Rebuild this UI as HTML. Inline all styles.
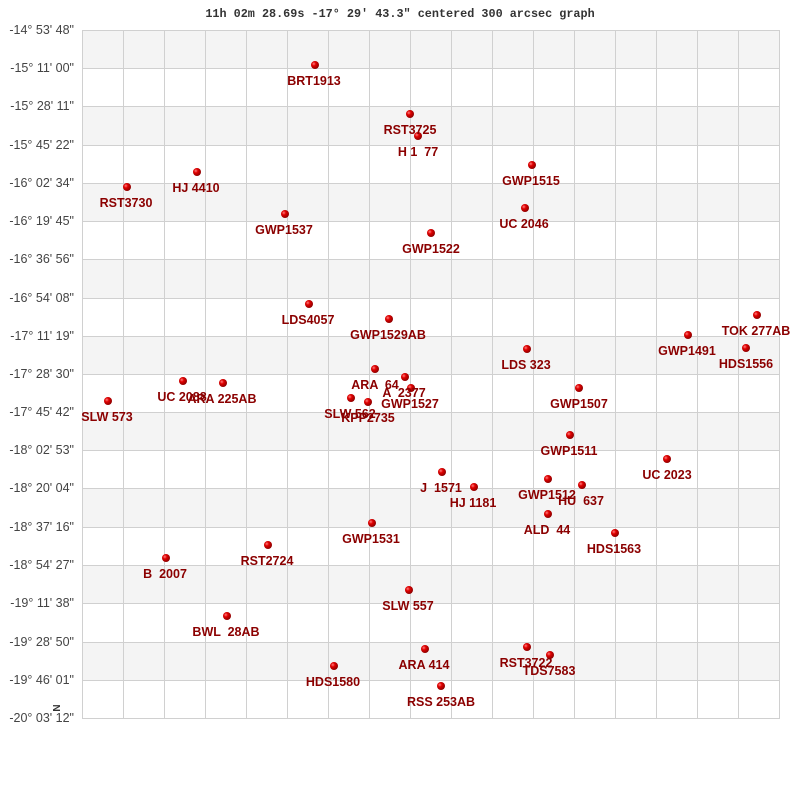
<!DOCTYPE html>
<html><head><meta charset="utf-8"><style>
body{margin:0;background:#fff}
svg text{font-family:"Liberation Sans",Arial,sans-serif}
.l{font-size:12.5px;font-weight:bold;fill:#8b0000;text-anchor:middle;white-space:pre}
.a{font-size:12.5px;fill:#444;text-anchor:end}
</style></head><body>
<svg width="800" height="800" xmlns="http://www.w3.org/2000/svg" xml:space="preserve">
<defs><radialGradient id="g" cx="35%" cy="35%" r="65%"><stop offset="0" stop-color="#ff8080"/><stop offset="0.4" stop-color="#e00000"/><stop offset="1" stop-color="#900000"/></radialGradient></defs>
<rect x="0" y="0" width="800" height="800" fill="#fff"/>
<g fill="#f4f4f4">
<rect x="82" y="30" width="698" height="38"/><rect x="82" y="106" width="698" height="39"/><rect x="82" y="183" width="698" height="38"/><rect x="82" y="259" width="698" height="39"/><rect x="82" y="336" width="698" height="38"/><rect x="82" y="412" width="698" height="38"/><rect x="82" y="488" width="698" height="39"/><rect x="82" y="565" width="698" height="38"/><rect x="82" y="642" width="698" height="38"/>
</g>
<g stroke="#d0d0d0" stroke-width="1">
<path d="M82 30.5H780M82 68.5H780M82 106.5H780M82 145.5H780M82 183.5H780M82 221.5H780M82 259.5H780M82 298.5H780M82 336.5H780M82 374.5H780M82 412.5H780M82 450.5H780M82 488.5H780M82 527.5H780M82 565.5H780M82 603.5H780M82 642.5H780M82 680.5H780M82 718.5H780"/>
<path d="M82.5 30V718M123.5 30V718M164.5 30V718M205.5 30V718M246.5 30V718M287.5 30V718M328.5 30V718M369.5 30V718M410.5 30V718M451.5 30V718M492.5 30V718M533.5 30V718M574.5 30V718M615.5 30V718M656.5 30V718M697.5 30V718M738.5 30V718M779.5 30V718"/>
</g>
<text x="400" y="17" text-anchor="middle" style="font-family:'Liberation Mono',monospace;font-size:11.8px;font-weight:bold;fill:#333">11h 02m 28.69s -17° 29′ 43.3" centered 300 arcsec graph</text>
<g class="a">
<text class="a" x="74" y="34">-14° 53' 48"</text><text class="a" x="74" y="72">-15° 11' 00"</text><text class="a" x="74" y="110">-15° 28' 11"</text><text class="a" x="74" y="149">-15° 45' 22"</text><text class="a" x="74" y="187">-16° 02' 34"</text><text class="a" x="74" y="225">-16° 19' 45"</text><text class="a" x="74" y="263">-16° 36' 56"</text><text class="a" x="74" y="302">-16° 54' 08"</text><text class="a" x="74" y="340">-17° 11' 19"</text><text class="a" x="74" y="378">-17° 28' 30"</text><text class="a" x="74" y="416">-17° 45' 42"</text><text class="a" x="74" y="454">-18° 02' 53"</text><text class="a" x="74" y="492">-18° 20' 04"</text><text class="a" x="74" y="531">-18° 37' 16"</text><text class="a" x="74" y="569">-18° 54' 27"</text><text class="a" x="74" y="607">-19° 11' 38"</text><text class="a" x="74" y="646">-19° 28' 50"</text><text class="a" x="74" y="684">-19° 46' 01"</text><text class="a" x="74" y="722">-20° 03' 12"</text>
</g>
<text x="0" y="0" transform="translate(60,708) rotate(-90)" style="font-size:10px;font-weight:bold;fill:#333" text-anchor="middle">N</text>
<g fill="url(#g)">
<circle cx="315" cy="65" r="4"/><circle cx="410" cy="114" r="4"/><circle cx="418" cy="136" r="4"/><circle cx="532" cy="165" r="4"/><circle cx="197" cy="172" r="4"/><circle cx="127" cy="187" r="4"/><circle cx="525" cy="208" r="4"/><circle cx="285" cy="214" r="4"/><circle cx="431" cy="233" r="4"/><circle cx="309" cy="304" r="4"/><circle cx="389" cy="319" r="4"/><circle cx="757" cy="315" r="4"/><circle cx="688" cy="335" r="4"/><circle cx="746" cy="348" r="4"/><circle cx="527" cy="349" r="4"/><circle cx="375" cy="369" r="4"/><circle cx="405" cy="377" r="4"/><circle cx="411" cy="388" r="4"/><circle cx="183" cy="381" r="4"/><circle cx="223" cy="383" r="4"/><circle cx="579" cy="388" r="4"/><circle cx="108" cy="401" r="4"/><circle cx="351" cy="398" r="4"/><circle cx="368" cy="402" r="4"/><circle cx="570" cy="435" r="4"/><circle cx="667" cy="459" r="4"/><circle cx="442" cy="472" r="4"/><circle cx="474" cy="487" r="4"/><circle cx="548" cy="479" r="4"/><circle cx="582" cy="485" r="4"/><circle cx="548" cy="514" r="4"/><circle cx="615" cy="533" r="4"/><circle cx="372" cy="523" r="4"/><circle cx="268" cy="545" r="4"/><circle cx="166" cy="558" r="4"/><circle cx="409" cy="590" r="4"/><circle cx="227" cy="616" r="4"/><circle cx="425" cy="649" r="4"/><circle cx="527" cy="647" r="4"/><circle cx="550" cy="655" r="4"/><circle cx="334" cy="666" r="4"/><circle cx="441" cy="686" r="4"/>
</g>
<g>
<text class="l" x="314" y="85">BRT1913</text>
<text class="l" x="410" y="134">RST3725</text>
<text class="l" x="418" y="156">H 1  77</text>
<text class="l" x="531" y="185">GWP1515</text>
<text class="l" x="196" y="192">HJ 4410</text>
<text class="l" x="126" y="207">RST3730</text>
<text class="l" x="524" y="228">UC 2046</text>
<text class="l" x="284" y="234">GWP1537</text>
<text class="l" x="431" y="253">GWP1522</text>
<text class="l" x="308" y="324">LDS4057</text>
<text class="l" x="388" y="339">GWP1529AB</text>
<text class="l" x="756" y="335">TOK 277AB</text>
<text class="l" x="687" y="355">GWP1491</text>
<text class="l" x="746" y="368">HDS1556</text>
<text class="l" x="526" y="369">LDS 323</text>
<text class="l" x="375" y="389">ARA  64</text>
<text class="l" x="404" y="397">A  2377</text>
<text class="l" x="410" y="408">GWP1527</text>
<text class="l" x="182" y="401">UC 2088</text>
<text class="l" x="222" y="403">ARA 225AB</text>
<text class="l" x="579" y="408">GWP1507</text>
<text class="l" x="107" y="421">SLW 573</text>
<text class="l" x="350" y="418">SLW 562</text>
<text class="l" x="368" y="422">KPP2735</text>
<text class="l" x="569" y="455">GWP1511</text>
<text class="l" x="667" y="479">UC 2023</text>
<text class="l" x="441" y="492">J  1571</text>
<text class="l" x="473" y="507">HJ 1181</text>
<text class="l" x="547" y="499">GWP1512</text>
<text class="l" x="581" y="505">HU  637</text>
<text class="l" x="547" y="534">ALD  44</text>
<text class="l" x="614" y="553">HDS1563</text>
<text class="l" x="371" y="543">GWP1531</text>
<text class="l" x="267" y="565">RST2724</text>
<text class="l" x="165" y="578">B  2007</text>
<text class="l" x="408" y="610">SLW 557</text>
<text class="l" x="226" y="636">BWL  28AB</text>
<text class="l" x="424" y="669">ARA 414</text>
<text class="l" x="526" y="667">RST3722</text>
<text class="l" x="549" y="675">TDS7583</text>
<text class="l" x="333" y="686">HDS1580</text>
<text class="l" x="441" y="706">RSS 253AB</text>
</g>
</svg>
</body></html>
